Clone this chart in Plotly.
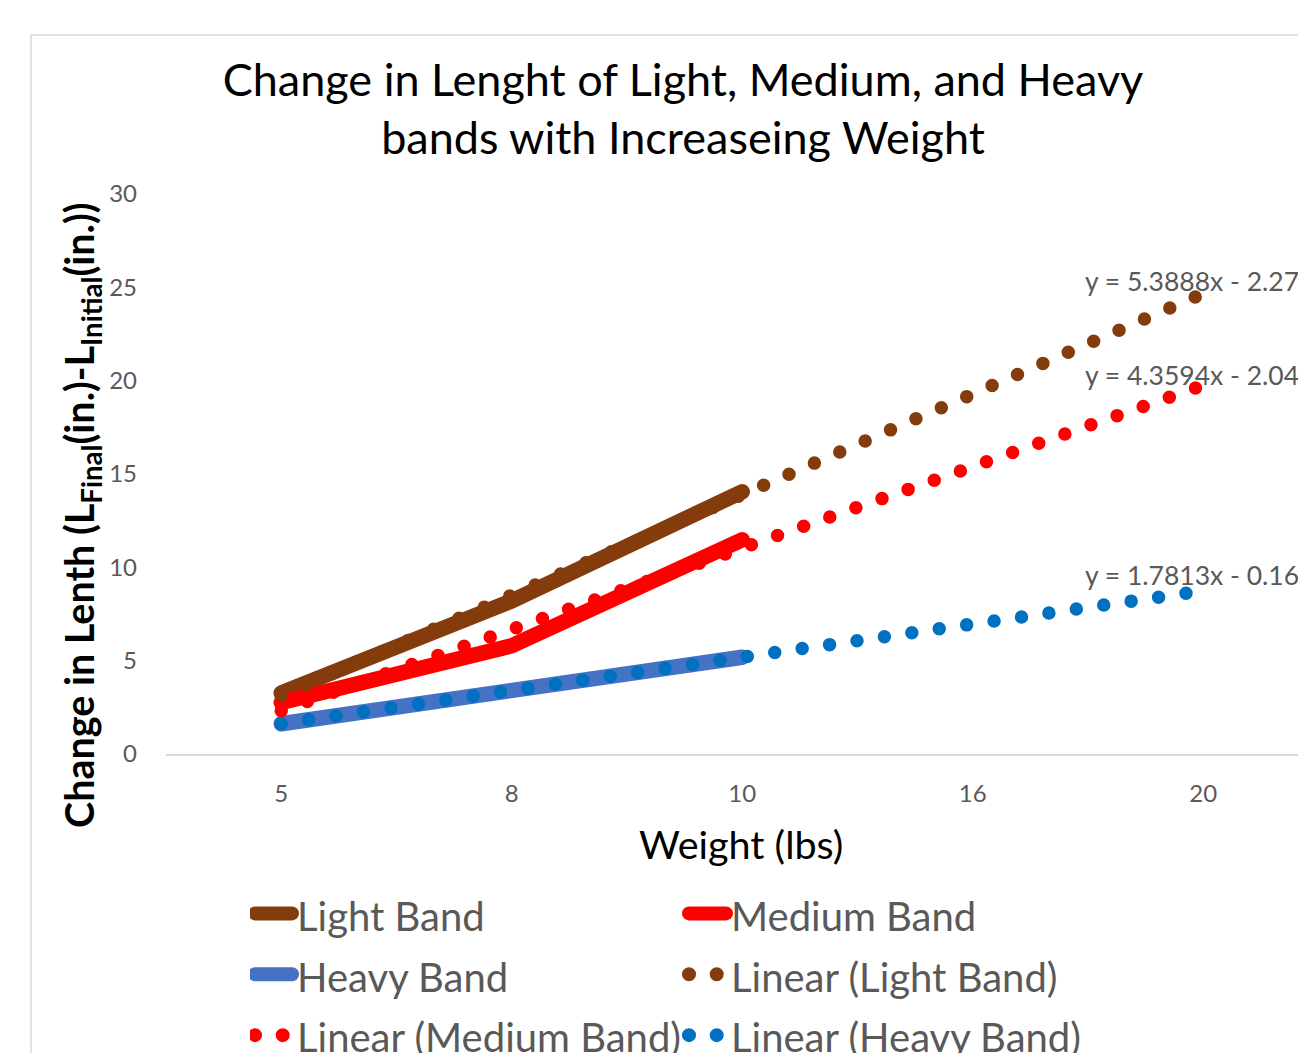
import numpy as np
import plotly.graph_objects as go

# ---------------- data ----------------
weights = ["5", "8", "10", "16", "20"]          # category labels (x axis)
light_band = [3.273, 8.2, 14.0506]             # change in length (in.)
medium_band = [2.7586, 5.8, 11.4774]
heavy_band = [1.6226, 3.4, 5.1852]
series_names = ["Light Band", "Medium Band", "Heavy Band"]
line_colors = ["#843C0C", "#FF0000", "#4472C4"]
trend_colors = ["#843C0C", "#FF0000", "#0070C0"]
forecast_forward = 2                            # trendline forecast periods

series = [light_band, medium_band, heavy_band]

# ---------------- layout constants ----------------
W, H = 1298, 1053
L, R, T, B = 166, 0, 194, 299
plot_w = W - L - R
plot_h = H - T - B
cat_step = 230.5
x_range = [0.5, 0.5 + plot_w / cat_step]
FONT = "Lato"
GRAY = "#595959"
LEG_TXT = '<span style="font-size:40px">{}</span>'

fig = go.Figure()

# main series
for name, vals, col in zip(series_names, series, line_colors):
    xs = np.arange(1, len(vals) + 1)
    fig.add_trace(go.Scatter(
        x=xs, y=vals, mode="lines", name=LEG_TXT.format(name),
        line=dict(color=col, width=15.5),
        hovertemplate=name + ": %{y}<extra></extra>",
    ))

# linear trendlines (least-squares on category index, Excel-style)
eq_pos_y = [25.34, 20.3, 9.6]
for name, vals, col, ey in zip(series_names, series, trend_colors, eq_pos_y):
    xs = np.arange(1, len(vals) + 1)
    slope, icpt = np.polyfit(xs, vals, 1)
    xt = np.array([1, len(vals) + forecast_forward], dtype=float)
    yt = slope * xt + icpt
    fig.add_trace(go.Scatter(
        x=xt, y=yt, mode="lines", name=LEG_TXT.format(f"Linear ({name})"),
        line=dict(color=col, width=13.5, dash="0px,27.7px"),
        hoverinfo="skip",
    ))
    sign = "-" if icpt < 0 else "+"
    fig.add_annotation(
        x=4.479, y=ey, xref="x", yref="y", xanchor="left", yanchor="middle",
        text=f"y = {slope:.4f}x {sign} {abs(icpt):.2f}", showarrow=False,
        font=dict(family=FONT, size=26.5, color=GRAY),
    )

# axis titles
fig.add_annotation(
    x=(741.5 - L) / plot_w, y=(754 - 843) / plot_h, xref="paper", yref="paper",
    text="Weight (lbs)", showarrow=False, xanchor="center", yanchor="middle",
    font=dict(family=FONT, size=39.5, color="#000000"),
)
fig.add_annotation(
    x=(81 - L) / plot_w, y=(754 - 515) / plot_h, xref="paper", yref="paper",
    text="<b>Change in Lenth (L<sub>Final</sub>(in.)-L<sub>Initial</sub>(in.))</b>",
    showarrow=False, textangle=-90, xanchor="center", yanchor="middle",
    font=dict(family=FONT, size=39.5, color="#000000"),
)

# chart border
fig.add_shape(
    type="rect", xref="paper", yref="paper",
    x0=(31 - L) / plot_w, x1=1.2, y0=-1.0, y1=(754 - 35) / plot_h,
    line=dict(color="#D9D9D9", width=1.5), fillcolor="rgba(0,0,0,0)", layer="below",
)

fig.update_layout(
    width=W, height=H,
    margin=dict(l=L, r=R, t=T, b=B, pad=0, autoexpand=False),
    paper_bgcolor="white", plot_bgcolor="white",
    title=dict(
        text="Change in Lenght of Light, Medium, and Heavy<br>bands with Increaseing Weight",
        x=683 / W, xanchor="center", xref="container",
        y=1 - 95.5 / H, yanchor="middle", yref="container",
        font=dict(family=FONT, size=45, color="#000000"),
    ),
    xaxis=dict(
        range=x_range, tickmode="array",
        tickvals=list(range(1, len(weights) + 1)), ticktext=weights,
        showgrid=False, zeroline=False, showline=True,
        linecolor="#D9D9D9", linewidth=1.5, ticks="",
        tickfont=dict(family=FONT, size=24, color=GRAY),
        ticklabelstandoff=17,
    ),
    yaxis=dict(
        range=[0, 30], dtick=5, showgrid=False, zeroline=False, showline=False,
        ticks="", tickfont=dict(family=FONT, size=24, color=GRAY),
        ticklabelstandoff=28,
    ),
    showlegend=True,
    legend=dict(
        orientation="h", x=(250 - L) / plot_w, y=1 - 878 / H,
        xanchor="left", yanchor="top", xref="paper", yref="container",
        entrywidth=382, entrywidthmode="pixels", itemwidth=37,
        font=dict(family=FONT, size=44.5, color=GRAY),
        bgcolor="rgba(0,0,0,0)", borderwidth=0,
        maxheight=1000,
    ),
)

css = ("var s=document.createElement('style');"
       "s.textContent='body{margin:0;} path.js-line{stroke-linecap:round;}"
       " .legendlines path.js-line{stroke-width:14px !important;}';"
       "document.head.appendChild(s);")
fig.write_html("out.html", post_script=css, config={"displayModeBar": False})
